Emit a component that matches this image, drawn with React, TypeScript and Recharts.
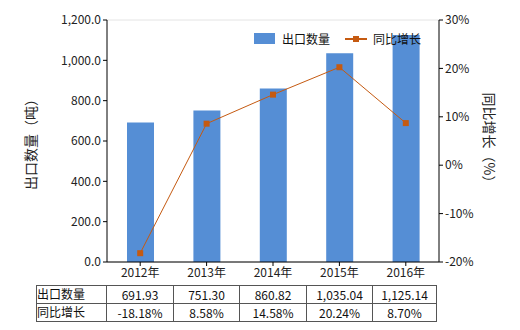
import React from 'react'
import { ComposedChart, XAxis, YAxis, CartesianGrid, Bar, Line } from 'recharts'

const years = ['2012年', '2013年', '2014年', '2015年', '2016年']
const exportQty = [691.93, 751.3, 860.82, 1035.04, 1125.14]
const yoyGrowth = [-18.18, 8.58, 14.58, 20.24, 8.7]
const qtyLabels = ['691.93', '751.30', '860.82', '1,035.04', '1,125.14']
const growthLabels = ['-18.18%', '8.58%', '14.58%', '20.24%', '8.70%']

const BAR_COLOR = '#558ED5'
const LINE_COLOR = '#C55A11'
const FONT = '"Noto Sans CJK SC", "Noto Sans", sans-serif'

const data = years.map((y, i) => ({ year: y, qty: exportQty[i], yoy: yoyGrowth[i] }))

const SquareDot = (props: any) => {
  const { cx, cy } = props
  if (cx == null || cy == null) return null
  return <rect x={cx - 3} y={cy - 3} width={6} height={6} fill={LINE_COLOR} />
}

const fmtQty = (v: number) =>
  v.toLocaleString('en-US', { minimumFractionDigits: 1, maximumFractionDigits: 1 })

export default function App() {
  const tick = { fontSize: 12, fill: '#222', fontFamily: FONT }
  const cell: React.CSSProperties = {
    border: '1px solid #555',
    height: 17,
    padding: 0,
    textAlign: 'center',
    verticalAlign: 'bottom',
    lineHeight: '16px',
  }
  return (
    <div style={{ position: 'fixed', left: 0, top: 0, width: 520, height: 330, background: '#fff', fontFamily: FONT }}>
      <ComposedChart width={520} height={330} data={data} margin={{ top: 20, right: 31, bottom: 48, left: 47 }}>
        <CartesianGrid vertical={false} stroke="#e4e4e4" />
        <XAxis
          dataKey="year"
          height={20}
          tick={tick}
          axisLine={{ stroke: '#000' }}
          tickLine={{ stroke: '#000' }}
          tickSize={4}
        />
        <YAxis
          yAxisId="left"
          width={60}
          domain={[0, 1200]}
          ticks={[0, 200, 400, 600, 800, 1000, 1200]}
          tickFormatter={fmtQty}
          tick={tick}
          axisLine={{ stroke: '#000' }}
          tickLine={{ stroke: '#000' }}
          tickSize={4}
          label={{ value: '出口数量（吨）', angle: -90, position: 'insideLeft', offset: -16, style: { fontSize: 14, fill: '#222', fontFamily: FONT, textAnchor: 'middle' } }}
        />
        <YAxis
          yAxisId="right"
          orientation="right"
          width={50}
          domain={[-20, 30]}
          ticks={[-20, -10, 0, 10, 20, 30]}
          tickFormatter={(v: number) => `${v}%`}
          tick={tick}
          axisLine={{ stroke: '#000' }}
          tickLine={{ stroke: '#000' }}
          tickSize={4}
          label={{ value: '同比增长（%）', angle: 90, position: 'insideRight', offset: 0, style: { fontSize: 14, fill: '#222', fontFamily: FONT, textAnchor: 'middle' } }}
        />
        <Bar yAxisId="left" dataKey="qty" fill={BAR_COLOR} barSize={27} isAnimationActive={false} />
        <Line
          yAxisId="right"
          dataKey="yoy"
          stroke={LINE_COLOR}
          strokeWidth={1}
          dot={<SquareDot />}
          activeDot={false}
          isAnimationActive={false}
        />
      </ComposedChart>

      <div style={{ position: 'absolute', left: 254, top: 30, display: 'flex', alignItems: 'center', fontSize: 12, color: '#111' }}>
        <span style={{ display: 'inline-block', width: 21, height: 11, background: BAR_COLOR, marginRight: 7 }} />
        <span style={{ marginRight: 15 }}>出口数量</span>
        <span style={{ position: 'relative', display: 'inline-block', width: 22, height: 11, marginRight: 6 }}>
          <span style={{ position: 'absolute', left: 0, top: 5, width: 22, height: 2, background: LINE_COLOR }} />
          <span style={{ position: 'absolute', left: 8, top: 3, width: 6, height: 6, background: LINE_COLOR }} />
        </span>
        <span>同比增长</span>
      </div>

      <table
        style={{
          position: 'absolute',
          left: 36,
          top: 285,
          borderCollapse: 'collapse',
          fontSize: 12,
          color: '#111',
          tableLayout: 'fixed',
        }}
      >
        <colgroup>
          <col style={{ width: 70 }} />
          <col style={{ width: 67 }} />
          <col style={{ width: 66 }} />
          <col style={{ width: 67 }} />
          <col style={{ width: 66 }} />
          <col style={{ width: 64 }} />
        </colgroup>
        <tbody>
          <tr>
            <td style={{ ...cell, textAlign: 'left', verticalAlign: 'top' }}>出口数量</td>
            {qtyLabels.map((t) => (
              <td key={t} style={cell}>{t}</td>
            ))}
          </tr>
          <tr>
            <td style={{ ...cell, textAlign: 'left', verticalAlign: 'top' }}>同比增长</td>
            {growthLabels.map((t) => (
              <td key={t} style={cell}>{t}</td>
            ))}
          </tr>
        </tbody>
      </table>
    </div>
  )
}
